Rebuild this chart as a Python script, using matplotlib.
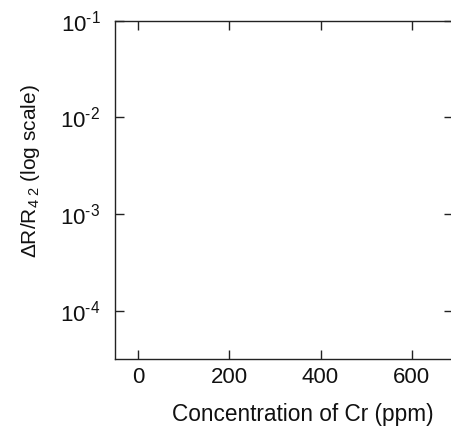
import matplotlib
matplotlib.use("Agg")
import matplotlib.pyplot as plt

# Data (the reference chart shows empty axes)
x_ticks = [0, 200, 400, 600]
x_tick_labels = ["0", "200", "400", "600"]
y_exponents = [-4, -3, -2, -1]
y_ticks = [10.0 ** e for e in y_exponents]
y_tick_labels = [r"$10^{\text{-%d}}$" % (-e) for e in y_exponents]
x_limits = [-50, 690]
y_limits = [10 ** -4.5, 1e-1]

plt.rcParams["font.family"] = ["Liberation Sans", "DejaVu Sans"]
plt.rcParams["mathtext.fontset"] = "custom"
plt.rcParams["mathtext.rm"] = "Liberation Sans"
plt.rcParams["mathtext.it"] = "Liberation Sans:italic"
plt.rcParams["mathtext.default"] = "regular"

fig = plt.figure(figsize=(4.51, 4.28), dpi=100)
ax = fig.add_axes([115 / 451, 1 - 359 / 428, (453 - 115) / 451, (359 - 20.7) / 428])

ax.set_yscale("log")
ax.set_xlim(*x_limits)
ax.set_ylim(*y_limits)
ax.set_xticks(x_ticks)
ax.set_xticklabels(x_tick_labels)
ax.set_yticks(y_ticks)
ax.set_yticklabels(y_tick_labels)
ax.yaxis.set_minor_locator(matplotlib.ticker.NullLocator())

col = "#222222"
for s in ax.spines.values():
    s.set_color(col)
    s.set_linewidth(1.0)

ax.tick_params(axis="both", which="major", direction="in", length=6.5, width=1.0,
               color=col, labelsize=16, labelcolor="#111111",
               top=True, right=True)
ax.tick_params(axis="x", pad=6)
ax.tick_params(axis="y", pad=10.5)

ax.set_xlabel("Concentration of Cr (ppm)", fontsize=16.3, color="#111111")
ax.xaxis.set_label_coords((302.5 - 115) / (453 - 115), -(415 - 359) / (359 - 20.7), transform=ax.transAxes)
ax.xaxis.label.set_va("center")
ax.set_ylabel(r"$\Delta$R/R$_{4\ 2}$ (log scale)", fontsize=15, color="#111111")
ax.yaxis.set_label_coords(-(115 - 31) / (453 - 115), (359 - 171) / (359 - 20.7), transform=ax.transAxes)
ax.yaxis.label.set_va("center")

fig.savefig("out.png", dpi=100)
